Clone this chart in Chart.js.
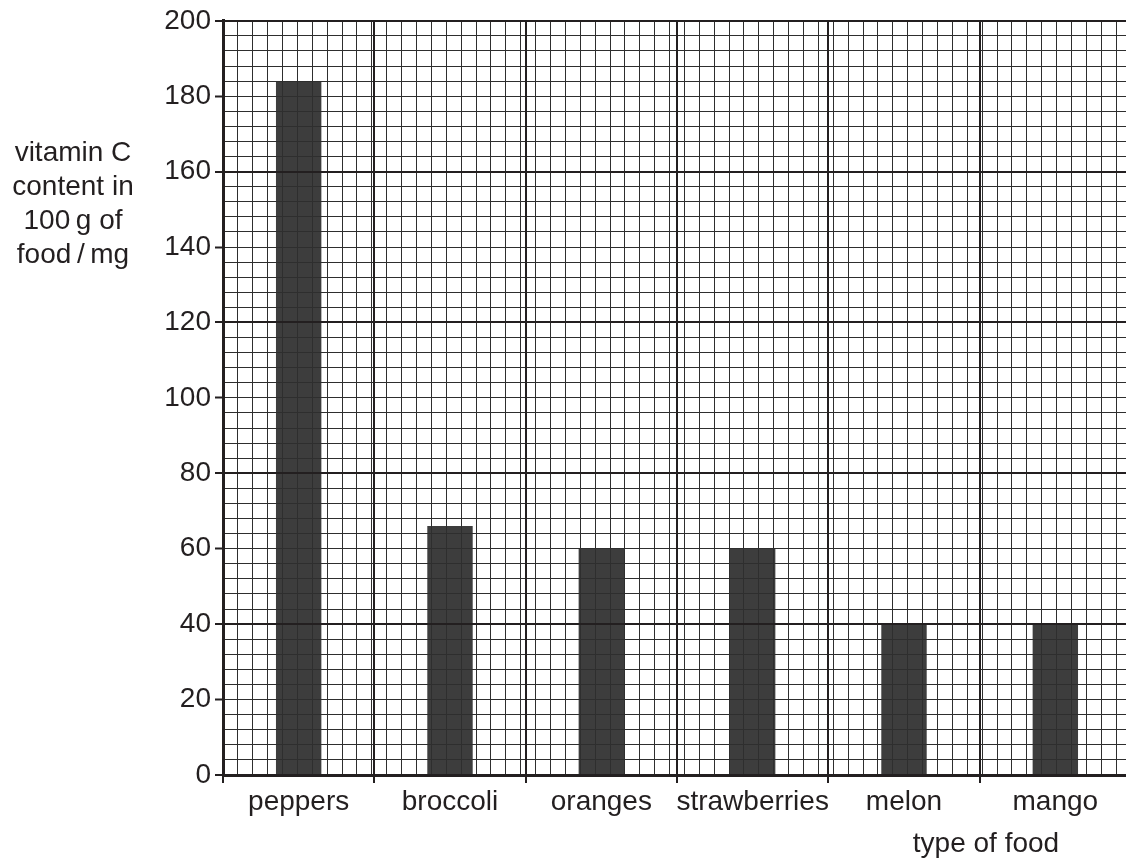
<!DOCTYPE html>
<html lang="en">
<head>
<meta charset="UTF-8">
<title>Vitamin C content</title>
<script src="https://cdn.jsdelivr.net/npm/chart.js"></script>
<style>
  body { margin: 0; overflow: hidden; background: #fff; font-family: 'Liberation Sans', Arial, sans-serif; color: #231f20; }
  #wrap { position: relative; width: 1126px; height: 863px; overflow: hidden; }
  .axis-title { position: absolute; font-size: 28px; line-height: 34px; text-align: center; white-space: nowrap; }
  #yTitle { left: 0; width: 146px; top: 135px; }
  #xTitle { left: 886px; width: 200px; top: 826px; }
</style>
</head>
<body>
<div id="wrap">
  <canvas id="foodChart" width="1140" height="863"></canvas>
  <div id="yTitle" class="axis-title">vitamin C<br>content in<br>100&#8201;g of<br>food&#8201;/&#8201;mg</div>
  <div id="xTitle" class="axis-title">type of food</div>
</div>

<script>
// dados
const categories = ['peppers', 'broccoli', 'oranges', 'strawberries', 'melon', 'mango'];
const vitaminC = [184, 66, 60, 60, 40, 40];
const yLabels = [0, 20, 40, 60, 80, 100, 120, 140, 160, 180, 200];

const ink = '#231f20';
const minorLine = '#2e2e2e';

const ctx = document.getElementById('foodChart').getContext('2d');

new Chart(ctx, {
    type: 'bar',
    data: {
        labels: categories,
        datasets: [{
            label: 'vitamin C content in 100 g of food / mg',
            data: vitaminC,
            backgroundColor: '#3d3d3d',
            borderWidth: 0,
            barPercentage: 0.3,
            categoryPercentage: 1.0
        }]
    },
    options: {
        responsive: false,
        animation: false,
        layout: { padding: { top: 19, right: 9, left: 0, bottom: 0 } },
        plugins: {
            legend: { display: false },
            tooltip: { enabled: false }
        },
        scales: {
            x: {
                type: 'category',
                offset: true,
                grid: {
                    z: 2,
                    offset: true,
                    color: ink,
                    lineWidth: 2,
                    tickLength: 8,
                    tickColor: ink,
                    tickWidth: 2
                },
                border: { display: true, color: ink, width: 3, z: 3 },
                ticks: {
                    color: ink,
                    padding: 2,
                    maxRotation: 0,
                    autoSkip: false,
                    font: { family: "'Liberation Sans', Arial, sans-serif", size: 28 }
                },
                afterFit: (scale) => { scale.height = 88; }
            },
            // eixo auxiliar só para as linhas finas verticais do papel milimetrado
            xGrid: {
                type: 'linear',
                position: 'top',
                min: 0,
                max: categories.length * 10,
                grid: {
                    z: 1,
                    color: minorLine,
                    lineWidth: 1,
                    drawTicks: false
                },
                border: { display: false },
                ticks: { display: false, stepSize: 1 },
                afterFit: (scale) => { scale.height = 0; }
            },
            y: {
                min: 0,
                max: 200,
                grid: {
                    z: 1,
                    color: (c) => (c.tick && c.tick.value % 40 === 0) ? ink : minorLine,
                    lineWidth: (c) => (c.tick && c.tick.value % 40 === 0) ? 2 : 1,
                    tickLength: 8,
                    tickColor: (c) => (c.tick && yLabels.includes(c.tick.value)) ? ink : 'rgba(0,0,0,0)',
                    tickWidth: 2
                },
                border: { display: true, color: ink, width: 3, z: 3 },
                ticks: {
                    stepSize: 4,
                    autoSkip: false,
                    color: ink,
                    padding: 4,
                    font: { family: "'Liberation Sans', Arial, sans-serif", size: 28 },
                    callback: (value) => yLabels.includes(value) ? String(value) : ''
                },
                afterFit: (scale) => { scale.width = 223; }
            }
        }
    }
});
</script>
</body>
</html>
